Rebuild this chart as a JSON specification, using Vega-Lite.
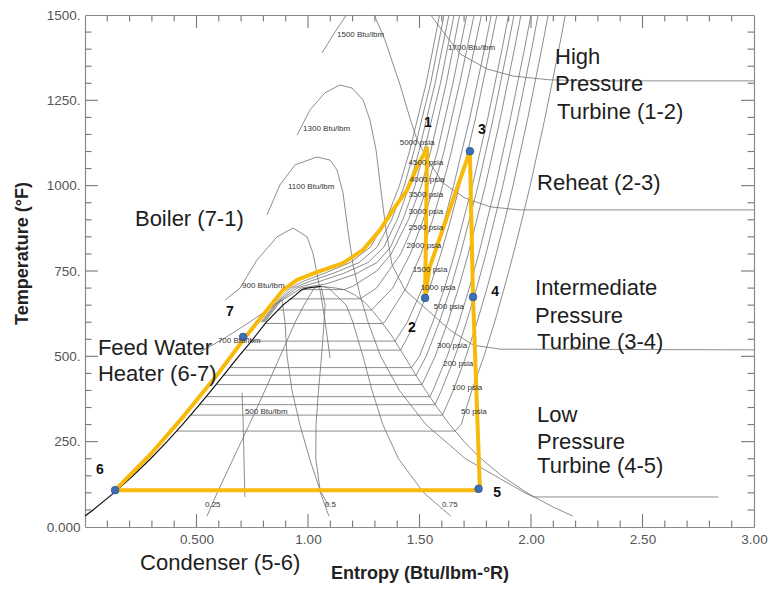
{
"$schema": "https://vega.github.io/schema/vega-lite/v6.json",
"width": 669, "height": 512,
"autosize": {"type": "none"},
"padding": {"left": 85, "top": 15, "right": 15, "bottom": 63},
"background": "white",
"config": {"view": {"stroke": null}, "font": "Liberation Sans"},
"datasets": {
"iso": [
{"g":"dv","o":0,"s":1.058,"T":705.4},{"g":"dv","o":1,"s":1.125,"T":700},{"g":"dv","o":2,"s":1.1615,"T":695.5},{"g":"dv","o":3,"s":1.21,"T":680},{"g":"dv","o":4,"s":1.252,"T":660},{"g":"dv","o":5,"s":1.28,"T":640},{"g":"dv","o":6,"s":1.306,"T":620},{"g":"dv","o":7,"s":1.3307,"T":600},{"g":"dv","o":8,"s":1.3757,"T":560},{"g":"dv","o":9,"s":1.4325,"T":500},{"g":"dv","o":10,"s":1.4793,"T":450},{"g":"dv","o":11,"s":1.5274,"T":400},{"g":"dv","o":12,"s":1.5793,"T":350},{"g":"dv","o":13,"s":1.6351,"T":300},{"g":"dv","o":14,"s":1.7002,"T":250},{"g":"dv","o":15,"s":1.7762,"T":200},{"g":"dv","o":16,"s":1.8685,"T":150},{"g":"dv","o":17,"s":1.9822,"T":100},{"g":"dv","o":18,"s":2.0946,"T":60},{"g":"dv","o":19,"s":2.1873,"T":32},
{"g":"q25","o":0,"s":1.058,"T":705.4},{"g":"q25","o":1,"s":1.0275,"T":700},{"g":"q25","o":2,"s":0.982,"T":650},{"g":"q25","o":3,"s":0.9425,"T":600},{"g":"q25","o":4,"s":0.8749,"T":500},{"g":"q25","o":5,"s":0.8069,"T":400},{"g":"q25","o":6,"s":0.7365,"T":300},{"g":"q25","o":7,"s":0.6646,"T":200},{"g":"q25","o":8,"s":0.5927,"T":100},{"g":"q25","o":9,"s":0.5468,"T":32},
{"g":"q50","o":0,"s":1.058,"T":705.4},{"g":"q50","o":1,"s":1.06,"T":700},{"g":"q50","o":2,"s":1.0768,"T":650},{"g":"q50","o":3,"s":1.0719,"T":600},{"g":"q50","o":4,"s":1.0608,"T":500},{"g":"q50","o":5,"s":1.047,"T":400},{"g":"q50","o":6,"s":1.036,"T":300},{"g":"q50","o":7,"s":1.035,"T":200},{"g":"q50","o":8,"s":1.0559,"T":100},{"g":"q50","o":9,"s":1.0937,"T":32},
{"g":"q75","o":0,"s":1.058,"T":705.4},{"g":"q75","o":1,"s":1.0925,"T":700},{"g":"q75","o":2,"s":1.1714,"T":650},{"g":"q75","o":3,"s":1.2013,"T":600},{"g":"q75","o":4,"s":1.2466,"T":500},{"g":"q75","o":5,"s":1.2872,"T":400},{"g":"q75","o":6,"s":1.3356,"T":300},{"g":"q75","o":7,"s":1.4056,"T":200},{"g":"q75","o":8,"s":1.5191,"T":100},{"g":"q75","o":9,"s":1.6405,"T":32},
{"g":"h1700","o":0,"s":1.502,"T":1559},{"g":"h1700","o":1,"s":1.547,"T":1503},{"g":"h1700","o":2,"s":1.614,"T":1444},{"g":"h1700","o":3,"s":1.682,"T":1386},{"g":"h1700","o":4,"s":1.803,"T":1342},{"g":"h1700","o":5,"s":1.919,"T":1321},{"g":"h1700","o":6,"s":2.085,"T":1310},{"g":"h1700","o":7,"s":2.309,"T":1307},{"g":"h1700","o":8,"s":3.0,"T":1307},
{"g":"h1500","o":0,"s":1.063,"T":1389},{"g":"h1500","o":1,"s":1.121,"T":1450},{"g":"h1500","o":2,"s":1.188,"T":1515},{"g":"h1500","o":3,"s":1.242,"T":1553},{"g":"h1500","o":4,"s":1.291,"T":1509},{"g":"h1500","o":5,"s":1.345,"T":1427},{"g":"h1500","o":6,"s":1.413,"T":1295},{"g":"h1500","o":7,"s":1.457,"T":1198},{"g":"h1500","o":8,"s":1.489,"T":1134},{"g":"h1500","o":9,"s":1.538,"T":1075},{"g":"h1500","o":10,"s":1.605,"T":1008},{"g":"h1500","o":11,"s":1.704,"T":964},{"g":"h1500","o":12,"s":1.816,"T":938},{"g":"h1500","o":13,"s":1.951,"T":929},{"g":"h1500","o":14,"s":3.0,"T":929},
{"g":"h1300","o":0,"s":0.951,"T":1148},{"g":"h1300","o":1,"s":1.009,"T":1222},{"g":"h1300","o":2,"s":1.076,"T":1272},{"g":"h1300","o":3,"s":1.143,"T":1295},{"g":"h1300","o":4,"s":1.197,"T":1286},{"g":"h1300","o":5,"s":1.247,"T":1251},{"g":"h1300","o":6,"s":1.278,"T":1192},{"g":"h1300","o":7,"s":1.305,"T":1105},{"g":"h1300","o":8,"s":1.327,"T":987},{"g":"h1300","o":9,"s":1.35,"T":870},{"g":"h1300","o":10,"s":1.377,"T":768},{"g":"h1300","o":11,"s":1.435,"T":694},{"g":"h1300","o":12,"s":1.525,"T":642},{"g":"h1300","o":13,"s":1.637,"T":577},{"g":"h1300","o":14,"s":1.74,"T":533},{"g":"h1300","o":15,"s":1.861,"T":521},{"g":"h1300","o":16,"s":3.0,"T":519},
{"g":"h1100","o":0,"s":0.816,"T":914},{"g":"h1100","o":1,"s":0.874,"T":1002},{"g":"h1100","o":2,"s":0.942,"T":1061},{"g":"h1100","o":3,"s":1.04,"T":1084},{"g":"h1100","o":4,"s":1.099,"T":1075},{"g":"h1100","o":5,"s":1.13,"T":1046},{"g":"h1100","o":6,"s":1.157,"T":979},{"g":"h1100","o":7,"s":1.179,"T":870},{"g":"h1100","o":8,"s":1.202,"T":768},{"g":"h1100","o":9,"s":1.233,"T":680},{"g":"h1100","o":10,"s":1.269,"T":601},{"g":"h1100","o":11,"s":1.326,"T":500},{"g":"h1100","o":12,"s":1.41,"T":400},{"g":"h1100","o":13,"s":1.529,"T":300},{"g":"h1100","o":14,"s":1.706,"T":200},{"g":"h1100","o":15,"s":1.973,"T":100},{"g":"h1100","o":16,"s":2.01,"T":88},{"g":"h1100","o":17,"s":2.84,"T":88},
{"g":"h900","o":0,"s":0.628,"T":665},{"g":"h900","o":1,"s":0.695,"T":700},{"g":"h900","o":2,"s":0.771,"T":782},{"g":"h900","o":3,"s":0.861,"T":850},{"g":"h900","o":4,"s":0.933,"T":876},{"g":"h900","o":5,"s":0.996,"T":850},{"g":"h900","o":6,"s":1.022,"T":803},{"g":"h900","o":7,"s":1.04,"T":744},{"g":"h900","o":8,"s":1.054,"T":694},{"g":"h900","o":9,"s":1.076,"T":606},{"g":"h900","o":10,"s":1.099,"T":495},
{"g":"h700","o":0,"s":0.516,"T":513},{"g":"h700","o":1,"s":0.628,"T":554},{"g":"h700","o":2,"s":0.74,"T":601},{"g":"h700","o":3,"s":0.83,"T":642},{"g":"h700","o":4,"s":0.883,"T":665},{"g":"h700","o":5,"s":0.897,"T":601},{"g":"h700","o":6,"s":0.906,"T":501},{"g":"h700","o":7,"s":0.928,"T":401},{"g":"h700","o":8,"s":0.964,"T":299},{"g":"h700","o":9,"s":1.009,"T":196},{"g":"h700","o":10,"s":1.054,"T":108},{"g":"h700","o":11,"s":1.09,"T":64},
{"g":"h500","o":0,"s":0.704,"T":393},{"g":"h500","o":1,"s":0.709,"T":313},{"g":"h500","o":2,"s":0.713,"T":196},{"g":"h500","o":3,"s":0.717,"T":88},
{"g":"p50","o":0,"s":0.4112,"T":281},{"g":"p50","o":1,"s":1.6585,"T":281},{"g":"p50","o":2,"s":1.6869,"T":300},{"g":"p50","o":3,"s":1.7348,"T":400},{"g":"p50","o":4,"s":1.7887,"T":500},{"g":"p50","o":5,"s":1.8368,"T":600},{"g":"p50","o":6,"s":1.8799,"T":700},{"g":"p50","o":7,"s":1.9209,"T":800},{"g":"p50","o":8,"s":1.9594,"T":900},{"g":"p50","o":9,"s":1.9963,"T":1000},{"g":"p50","o":10,"s":2.0632,"T":1200},{"g":"p50","o":11,"s":2.125,"T":1400},{"g":"p50","o":12,"s":2.154,"T":1500},
{"g":"p100","o":0,"s":0.4743,"T":327.8},{"g":"p100","o":1,"s":1.6028,"T":327.8},{"g":"p100","o":2,"s":1.6516,"T":400},{"g":"p100","o":3,"s":1.7085,"T":500},{"g":"p100","o":4,"s":1.7581,"T":600},{"g":"p100","o":5,"s":1.8029,"T":700},{"g":"p100","o":6,"s":1.8443,"T":800},{"g":"p100","o":7,"s":1.8829,"T":900},{"g":"p100","o":8,"s":1.9193,"T":1000},{"g":"p100","o":9,"s":1.9862,"T":1200},{"g":"p100","o":10,"s":2.0478,"T":1400},{"g":"p100","o":11,"s":2.077,"T":1500},
{"g":"p150","o":0,"s":0.5141,"T":358.4},{"g":"p150","o":1,"s":1.5695,"T":358.4},{"g":"p150","o":2,"s":1.598,"T":400},{"g":"p150","o":3,"s":1.659,"T":500},{"g":"p150","o":4,"s":1.7105,"T":600},{"g":"p150","o":5,"s":1.7563,"T":700},{"g":"p150","o":6,"s":1.7982,"T":800},{"g":"p150","o":7,"s":1.8738,"T":1000},{"g":"p150","o":8,"s":1.9409,"T":1200},{"g":"p150","o":9,"s":2.003,"T":1400},{"g":"p150","o":10,"s":2.032,"T":1500},
{"g":"p200","o":0,"s":0.5438,"T":381.8},{"g":"p200","o":1,"s":1.5464,"T":381.8},{"g":"p200","o":2,"s":1.56,"T":400},{"g":"p200","o":3,"s":1.6239,"T":500},{"g":"p200","o":4,"s":1.6767,"T":600},{"g":"p200","o":5,"s":1.7232,"T":700},{"g":"p200","o":6,"s":1.7655,"T":800},{"g":"p200","o":7,"s":1.8415,"T":1000},{"g":"p200","o":8,"s":1.9087,"T":1200},{"g":"p200","o":9,"s":1.9706,"T":1400},{"g":"p200","o":10,"s":1.9997,"T":1500},
{"g":"p300","o":0,"s":0.5882,"T":417.3},{"g":"p300","o":1,"s":1.5115,"T":417.3},{"g":"p300","o":2,"s":1.5701,"T":500},{"g":"p300","o":3,"s":1.6268,"T":600},{"g":"p300","o":4,"s":1.6751,"T":700},{"g":"p300","o":5,"s":1.7184,"T":800},{"g":"p300","o":6,"s":1.7954,"T":1000},{"g":"p300","o":7,"s":1.8634,"T":1200},{"g":"p300","o":8,"s":1.9256,"T":1400},{"g":"p300","o":9,"s":1.9548,"T":1500},
{"g":"p400","o":0,"s":0.6217,"T":444.6},{"g":"p400","o":1,"s":1.4847,"T":444.6},{"g":"p400","o":2,"s":1.53,"T":500},{"g":"p400","o":3,"s":1.5889,"T":600},{"g":"p400","o":4,"s":1.6397,"T":700},{"g":"p400","o":5,"s":1.6839,"T":800},{"g":"p400","o":6,"s":1.7626,"T":1000},{"g":"p400","o":7,"s":1.8316,"T":1200},{"g":"p400","o":8,"s":1.894,"T":1400},{"g":"p400","o":9,"s":1.924,"T":1500},
{"g":"p500","o":0,"s":0.649,"T":467},{"g":"p500","o":1,"s":1.4645,"T":467},{"g":"p500","o":2,"s":1.4994,"T":500},{"g":"p500","o":3,"s":1.5594,"T":600},{"g":"p500","o":4,"s":1.6123,"T":700},{"g":"p500","o":5,"s":1.6571,"T":800},{"g":"p500","o":6,"s":1.7371,"T":1000},{"g":"p500","o":7,"s":1.8069,"T":1200},{"g":"p500","o":8,"s":1.8702,"T":1400},{"g":"p500","o":9,"s":1.8997,"T":1500},
{"g":"p800","o":0,"s":0.7197,"T":518.2},{"g":"p800","o":1,"s":1.4153,"T":518.2},{"g":"p800","o":2,"s":1.482,"T":600},{"g":"p800","o":3,"s":1.545,"T":700},{"g":"p800","o":4,"s":1.5957,"T":800},{"g":"p800","o":5,"s":1.64,"T":900},{"g":"p800","o":6,"s":1.68,"T":1000},{"g":"p800","o":7,"s":1.752,"T":1200},{"g":"p800","o":8,"s":1.816,"T":1400},{"g":"p800","o":9,"s":1.847,"T":1500},
{"g":"p1000","o":0,"s":0.7434,"T":544.6},{"g":"p1000","o":1,"s":1.3903,"T":544.6},{"g":"p1000","o":2,"s":1.4454,"T":600},{"g":"p1000","o":3,"s":1.5132,"T":700},{"g":"p1000","o":4,"s":1.5665,"T":800},{"g":"p1000","o":5,"s":1.6123,"T":900},{"g":"p1000","o":6,"s":1.653,"T":1000},{"g":"p1000","o":7,"s":1.7261,"T":1200},{"g":"p1000","o":8,"s":1.7915,"T":1400},{"g":"p1000","o":9,"s":1.8218,"T":1500},
{"g":"p1500","o":0,"s":0.8085,"T":596.2},{"g":"p1500","o":1,"s":1.3327,"T":596.2},{"g":"p1500","o":2,"s":1.343,"T":600},{"g":"p1500","o":3,"s":1.4397,"T":700},{"g":"p1500","o":4,"s":1.5066,"T":800},{"g":"p1500","o":5,"s":1.559,"T":900},{"g":"p1500","o":6,"s":1.6034,"T":1000},{"g":"p1500","o":7,"s":1.643,"T":1100},{"g":"p1500","o":8,"s":1.713,"T":1300},{"g":"p1500","o":9,"s":1.778,"T":1500},
{"g":"p2000","o":0,"s":0.8625,"T":635.8},{"g":"p2000","o":1,"s":1.2849,"T":635.8},{"g":"p2000","o":2,"s":1.3794,"T":700},{"g":"p2000","o":3,"s":1.459,"T":800},{"g":"p2000","o":4,"s":1.5169,"T":900},{"g":"p2000","o":5,"s":1.5658,"T":1000},{"g":"p2000","o":6,"s":1.61,"T":1100},{"g":"p2000","o":7,"s":1.68,"T":1300},{"g":"p2000","o":8,"s":1.745,"T":1500},
{"g":"p2500","o":0,"s":0.9139,"T":668.3},{"g":"p2500","o":1,"s":1.233,"T":668.3},{"g":"p2500","o":2,"s":1.3073,"T":700},{"g":"p2500","o":3,"s":1.4155,"T":800},{"g":"p2500","o":4,"s":1.4833,"T":900},{"g":"p2500","o":5,"s":1.5363,"T":1000},{"g":"p2500","o":6,"s":1.58,"T":1100},{"g":"p2500","o":7,"s":1.65,"T":1300},{"g":"p2500","o":8,"s":1.712,"T":1500},
{"g":"p3000","o":0,"s":0.9728,"T":695.5},{"g":"p3000","o":1,"s":1.1615,"T":695.5},{"g":"p3000","o":2,"s":1.2,"T":705},{"g":"p3000","o":3,"s":1.3082,"T":750},{"g":"p3000","o":4,"s":1.3731,"T":800},{"g":"p3000","o":5,"s":1.4501,"T":900},{"g":"p3000","o":6,"s":1.5085,"T":1000},{"g":"p3000","o":7,"s":1.55,"T":1100},{"g":"p3000","o":8,"s":1.62,"T":1300},{"g":"p3000","o":9,"s":1.68,"T":1500},
{"g":"p3500","o":0,"s":0.805,"T":600},{"g":"p3500","o":1,"s":0.875,"T":660},{"g":"p3500","o":2,"s":0.97,"T":700},{"g":"p3500","o":3,"s":1.08,"T":712},{"g":"p3500","o":4,"s":1.21,"T":740},{"g":"p3500","o":5,"s":1.31,"T":775},{"g":"p3500","o":6,"s":1.37,"T":820},{"g":"p3500","o":7,"s":1.425,"T":900},{"g":"p3500","o":8,"s":1.48,"T":1000},{"g":"p3500","o":9,"s":1.52,"T":1100},{"g":"p3500","o":10,"s":1.594,"T":1300},{"g":"p3500","o":11,"s":1.655,"T":1500},
{"g":"p4000","o":0,"s":0.8,"T":600},{"g":"p4000","o":1,"s":0.87,"T":660},{"g":"p4000","o":2,"s":0.95,"T":700},{"g":"p4000","o":3,"s":1.04,"T":717},{"g":"p4000","o":4,"s":1.16,"T":743},{"g":"p4000","o":5,"s":1.27,"T":775},{"g":"p4000","o":6,"s":1.34,"T":820},{"g":"p4000","o":7,"s":1.4,"T":900},{"g":"p4000","o":8,"s":1.455,"T":1000},{"g":"p4000","o":9,"s":1.497,"T":1100},{"g":"p4000","o":10,"s":1.57,"T":1300},{"g":"p4000","o":11,"s":1.632,"T":1500},
{"g":"p4500","o":0,"s":0.795,"T":600},{"g":"p4500","o":1,"s":0.865,"T":660},{"g":"p4500","o":2,"s":0.935,"T":700},{"g":"p4500","o":3,"s":1.01,"T":720},{"g":"p4500","o":4,"s":1.12,"T":745},{"g":"p4500","o":5,"s":1.23,"T":775},{"g":"p4500","o":6,"s":1.31,"T":820},{"g":"p4500","o":7,"s":1.375,"T":900},{"g":"p4500","o":8,"s":1.432,"T":1000},{"g":"p4500","o":9,"s":1.475,"T":1100},{"g":"p4500","o":10,"s":1.55,"T":1300},{"g":"p4500","o":11,"s":1.61,"T":1500},
{"g":"p5000","o":0,"s":0.79,"T":600},{"g":"p5000","o":1,"s":0.86,"T":660},{"g":"p5000","o":2,"s":0.92,"T":700},{"g":"p5000","o":3,"s":0.98,"T":720},{"g":"p5000","o":4,"s":1.08,"T":745},{"g":"p5000","o":5,"s":1.19,"T":775},{"g":"p5000","o":6,"s":1.28,"T":820},{"g":"p5000","o":7,"s":1.35,"T":900},{"g":"p5000","o":8,"s":1.41,"T":1000},{"g":"p5000","o":9,"s":1.455,"T":1100},{"g":"p5000","o":10,"s":1.53,"T":1300},{"g":"p5000","o":11,"s":1.59,"T":1500}
],
"liq": [
{"o":0,"s":0,"T":32},{"o":1,"s":0.0361,"T":50},{"o":2,"s":0.1296,"T":100},{"o":3,"s":0.215,"T":150},{"o":4,"s":0.294,"T":200},{"o":5,"s":0.3677,"T":250},{"o":6,"s":0.4369,"T":300},{"o":7,"s":0.5022,"T":350},{"o":8,"s":0.5667,"T":400},{"o":9,"s":0.628,"T":450},{"o":10,"s":0.689,"T":500},{"o":11,"s":0.753,"T":550},{"o":12,"s":0.8131,"T":600},{"o":13,"s":0.8876,"T":650},{"o":14,"s":0.9448,"T":680},{"o":15,"s":0.9728,"T":695.5},{"o":16,"s":0.995,"T":700},{"o":17,"s":1.058,"T":705.4}
],
"cycle": [
{"o":0,"s":0.135,"T":108},{"o":1,"s":0.291,"T":211},{"o":2,"s":0.439,"T":322},{"o":3,"s":0.592,"T":445},{"o":4,"s":0.709,"T":548},{"o":5,"s":0.816,"T":636},{"o":6,"s":0.888,"T":694},{"o":7,"s":0.951,"T":724},{"o":8,"s":1.04,"T":747},{"o":9,"s":1.157,"T":773},{"o":10,"s":1.247,"T":812},{"o":11,"s":1.323,"T":870},{"o":12,"s":1.381,"T":929},{"o":13,"s":1.444,"T":987},{"o":14,"s":1.489,"T":1055},{"o":15,"s":1.534,"T":1110},{"o":16,"s":1.525,"T":671},{"o":17,"s":1.545,"T":760},{"o":18,"s":1.726,"T":1101},{"o":19,"s":1.74,"T":674},{"o":20,"s":1.771,"T":108},{"o":21,"s":0.135,"T":108}
],
"pts": [
{"s":1.525,"T":671},{"s":1.726,"T":1101},{"s":1.74,"T":674},{"s":1.765,"T":112},{"s":0.135,"T":108},{"s":0.709,"T":557}
],
"xmaj": [{"v":0.5},{"v":1},{"v":1.5},{"v":2},{"v":2.5}],
"xmin": [{"v":0.1},{"v":0.2},{"v":0.3},{"v":0.4},{"v":0.6},{"v":0.7},{"v":0.8},{"v":0.9},{"v":1.1},{"v":1.2},{"v":1.3},{"v":1.4},{"v":1.6},{"v":1.7},{"v":1.8},{"v":1.9},{"v":2.1},{"v":2.2},{"v":2.3},{"v":2.4},{"v":2.6},{"v":2.7},{"v":2.8},{"v":2.9}],
"ymaj": [{"v":250},{"v":500},{"v":750},{"v":1000},{"v":1250}],
"ymin": [{"v":50},{"v":100},{"v":150},{"v":200},{"v":300},{"v":350},{"v":400},{"v":450},{"v":550},{"v":600},{"v":650},{"v":700},{"v":800},{"v":850},{"v":900},{"v":950},{"v":1050},{"v":1100},{"v":1150},{"v":1200},{"v":1300},{"v":1350},{"v":1400},{"v":1450}],
"big": [
{"t":"High","s":2.108,"T":1377},{"t":"Pressure","s":2.108,"T":1298},{"t":"Turbine (1-2)","s":2.117,"T":1216},{"t":"Reheat (2-3)","s":2.027,"T":1008},{"t":"Intermediate","s":2.018,"T":700},{"t":"Pressure","s":2.018,"T":618},{"t":"Turbine (3-4)","s":2.027,"T":542},{"t":"Low","s":2.027,"T":328},{"t":"Pressure","s":2.027,"T":249},{"t":"Turbine (4-5)","s":2.027,"T":179},{"t":"Boiler (7-1)","s":0.224,"T":902},{"t":"Feed Water","s":0.058,"T":524},{"t":"Heater (6-7)","s":0.058,"T":448},{"t":"Condenser (5-6)","s":0.247,"T":-105}
],
"nums": [
{"t":"1","s":1.538,"T":1184},{"t":"2","s":1.466,"T":583},{"t":"3","s":1.78,"T":1163},{"t":"4","s":1.839,"T":688},{"t":"5","s":1.848,"T":100},{"t":"6","s":0.067,"T":167},{"t":"7","s":0.65,"T":630}
],
"hlab": [
{"t":"500 Btu/lbm","s":0.717,"T":337},{"t":"700 Btu/lbm","s":0.596,"T":545},{"t":"900 Btu/lbm","s":0.704,"T":706},{"t":"1100 Btu/lbm","s":0.91,"T":996},{"t":"1300 Btu/lbm","s":0.978,"T":1166},{"t":"1500 Btu/lbm","s":1.13,"T":1441},{"t":"1700 Btu/lbm","s":1.628,"T":1403},
{"t":"0.25","s":0.538,"T":64},{"t":"0.5","s":1.076,"T":64},{"t":"0.75","s":1.601,"T":64}
],
"plab": [
{"t":"5000 psia","s":1.489,"T":1125},{"t":"4500 psia","s":1.529,"T":1066},{"t":"4000 psia","s":1.534,"T":1017},{"t":"3500 psia","s":1.529,"T":973},{"t":"3000 psia","s":1.529,"T":923},{"t":"2500 psia","s":1.529,"T":876},{"t":"2000 psia","s":1.52,"T":823},{"t":"1500 psia","s":1.547,"T":753},{"t":"1000 psia","s":1.583,"T":700},{"t":"500 psia","s":1.632,"T":645},{"t":"300 psia","s":1.646,"T":530},{"t":"200 psia","s":1.673,"T":478},{"t":"100 psia","s":1.713,"T":407},{"t":"50 psia","s":1.744,"T":337}
]
},
"layer": [
{
"data": {"name": "iso"},
"mark": {"type": "line", "stroke": "#707070", "strokeWidth": 0.8, "clip": true},
"encoding": {
"x": {"field": "s", "type": "quantitative", "scale": {"domain": [0, 3], "nice": false, "zero": false},
"axis": {"orient": "bottom", "values": [0, 0.5, 1, 1.5, 2, 2.5, 3], "ticks": false, "labelPadding": 5, "labelFlush": false, "labelOverlap": false,
"labelExpr": "datum.value == 0 ? '' : (datum.value == 0.5 ? '0.500' : format(datum.value, '.2f'))",
"labelFontSize": 13.5, "labelColor": "#555555", "labelFont": "Liberation Sans", "domainColor": "#8a8a8a", "domainWidth": 1.2, "grid": false,
"title": "Entropy (Btu/lbm-°R)", "titleFont": "Liberation Sans", "titleFontSize": 18, "titleFontWeight": "bold", "titleColor": "#222222", "titleX": 334.5, "titleY": 46, "titleBaseline": "middle", "titleAlign": "center"}},
"y": {"field": "T", "type": "quantitative", "scale": {"domain": [0, 1500], "nice": false, "zero": false},
"axis": {"orient": "left", "values": [0, 250, 500, 750, 1000, 1250, 1500], "ticks": false, "labelPadding": 5, "labelFlush": false, "labelOverlap": false,
"labelExpr": "datum.value == 0 ? '0.000' : format(datum.value, 'd') + '.'",
"labelFontSize": 13.5, "labelColor": "#555555", "labelFont": "Liberation Sans", "domainColor": "#8a8a8a", "domainWidth": 1.2, "grid": false,
"title": "Temperature (°F)", "titleFont": "Liberation Sans", "titleFontSize": 18, "titleFontWeight": "bold", "titleColor": "#222222", "titleX": -63, "titleY": 238, "titleBaseline": "middle", "titleAlign": "center", "titleAngle": -90}},
"detail": {"field": "g"},
"order": {"field": "o", "type": "quantitative"}
}
},
{
"data": {"name": "xmaj"},
"mark": {"type": "rule", "stroke": "#777777", "strokeWidth": 1.1},
"encoding": {"x": {"field": "v", "type": "quantitative", "axis": null}, "y": {"datum": 0, "type": "quantitative", "axis": null}, "y2": {"datum": 38}}
},
{
"data": {"name": "xmaj"},
"mark": {"type": "rule", "stroke": "#777777", "strokeWidth": 1.1},
"encoding": {"x": {"field": "v", "type": "quantitative", "axis": null}, "y": {"datum": 1500, "type": "quantitative", "axis": null}, "y2": {"datum": 1462}}
},
{
"data": {"name": "xmin"},
"mark": {"type": "rule", "stroke": "#777777", "strokeWidth": 1.1},
"encoding": {"x": {"field": "v", "type": "quantitative", "axis": null}, "y": {"datum": 0, "type": "quantitative", "axis": null}, "y2": {"datum": 19}}
},
{
"data": {"name": "xmin"},
"mark": {"type": "rule", "stroke": "#777777", "strokeWidth": 1.1},
"encoding": {"x": {"field": "v", "type": "quantitative", "axis": null}, "y": {"datum": 1500, "type": "quantitative", "axis": null}, "y2": {"datum": 1481}}
},
{
"data": {"name": "ymaj"},
"mark": {"type": "rule", "stroke": "#777777", "strokeWidth": 1.1},
"encoding": {"y": {"field": "v", "type": "quantitative", "axis": null}, "x": {"datum": 0, "type": "quantitative", "axis": null}, "x2": {"datum": 0.058}}
},
{
"data": {"name": "ymaj"},
"mark": {"type": "rule", "stroke": "#777777", "strokeWidth": 1.1},
"encoding": {"y": {"field": "v", "type": "quantitative", "axis": null}, "x": {"datum": 3, "type": "quantitative", "axis": null}, "x2": {"datum": 2.942}}
},
{
"data": {"name": "ymin"},
"mark": {"type": "rule", "stroke": "#777777", "strokeWidth": 1.1},
"encoding": {"y": {"field": "v", "type": "quantitative", "axis": null}, "x": {"datum": 0, "type": "quantitative", "axis": null}, "x2": {"datum": 0.029}}
},
{
"data": {"name": "ymin"},
"mark": {"type": "rule", "stroke": "#777777", "strokeWidth": 1.1},
"encoding": {"y": {"field": "v", "type": "quantitative", "axis": null}, "x": {"datum": 3, "type": "quantitative", "axis": null}, "x2": {"datum": 2.971}}
},
{
"data": {"name": "liq"},
"mark": {"type": "line", "stroke": "#111111", "strokeWidth": 1.2},
"encoding": {
"x": {"field": "s", "type": "quantitative", "axis": null},
"y": {"field": "T", "type": "quantitative", "axis": null},
"order": {"field": "o", "type": "quantitative"}
}
},
{
"data": {"name": "cycle"},
"mark": {"type": "line", "stroke": "#F7B90A", "strokeWidth": 4, "strokeJoin": "round", "strokeCap": "round"},
"encoding": {
"x": {"field": "s", "type": "quantitative", "scale": {"domain": [0, 3], "nice": false, "zero": false},
"axis": {"orient": "top", "ticks": false, "labels": false, "grid": false, "title": null, "domainColor": "#8a8a8a", "domainWidth": 1.2}},
"y": {"field": "T", "type": "quantitative", "scale": {"domain": [0, 1500], "nice": false, "zero": false},
"axis": {"orient": "right", "ticks": false, "labels": false, "grid": false, "title": null, "domainColor": "#8a8a8a", "domainWidth": 1.2}},
"order": {"field": "o", "type": "quantitative"}
}
},
{
"data": {"name": "pts"},
"mark": {"type": "point", "filled": true, "fill": "#3d6fb6", "stroke": "#27497a", "strokeWidth": 0.6, "size": 60, "opacity": 1},
"encoding": {
"x": {"field": "s", "type": "quantitative", "axis": null},
"y": {"field": "T", "type": "quantitative", "axis": null}
}
},
{
"data": {"name": "plab"},
"mark": {"type": "text", "fontSize": 8, "color": "#333333", "align": "center", "baseline": "middle", "font": "Liberation Sans"},
"encoding": {
"x": {"field": "s", "type": "quantitative", "axis": null},
"y": {"field": "T", "type": "quantitative", "axis": null},
"text": {"field": "t"}
}
},
{
"data": {"name": "hlab"},
"mark": {"type": "text", "fontSize": 8, "color": "#333333", "align": "left", "baseline": "middle", "font": "Liberation Sans"},
"encoding": {
"x": {"field": "s", "type": "quantitative", "axis": null},
"y": {"field": "T", "type": "quantitative", "axis": null},
"text": {"field": "t"}
}
},
{
"data": {"name": "nums"},
"mark": {"type": "text", "fontSize": 14, "fontWeight": "bold", "color": "#111111", "align": "center", "baseline": "middle", "font": "Liberation Sans"},
"encoding": {
"x": {"field": "s", "type": "quantitative", "axis": null},
"y": {"field": "T", "type": "quantitative", "axis": null},
"text": {"field": "t"}
}
},
{
"data": {"name": "big"},
"mark": {"type": "text", "fontSize": 22, "color": "#1e1e1e", "align": "left", "baseline": "middle", "font": "Liberation Sans"},
"encoding": {
"x": {"field": "s", "type": "quantitative", "axis": null},
"y": {"field": "T", "type": "quantitative", "axis": null},
"text": {"field": "t"}
}
}
],
"resolve": {"axis": {"x": "independent", "y": "independent"}}
}
